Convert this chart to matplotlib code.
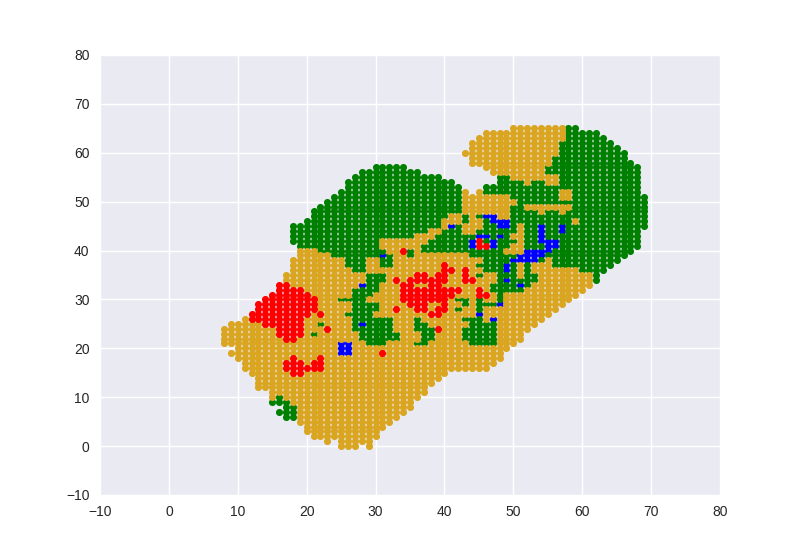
import matplotlib
matplotlib.use("Agg")
import matplotlib.pyplot as plt

# Every colour: column x -> runs of y values (high, low)
outline_runs = {
    8: [(24, 21)], 9: [(25, 21), (19, 19)], 10: [(25, 18)], 11: [(26, 16)], 12: [(27, 15)],
    13: [(29, 12)], 14: [(30, 12)], 15: [(31, 9)], 16: [(33, 9), (7, 7)], 17: [(35, 6)],
    18: [(45, 42), (38, 6)], 19: [(45, 5)], 20: [(46, 3)], 21: [(48, 2)], 22: [(49, 2)],
    23: [(50, 1)], 24: [(51, 2)], 25: [(52, 0)], 26: [(54, 0)], 27: [(55, 0)], 28: [(56, 1)],
    29: [(56, 0)], 30: [(57, 2)], 31: [(57, 4)], 32: [(57, 5)], 33: [(57, 6)], 34: [(57, 7)],
    35: [(56, 8)], 36: [(56, 10)], 37: [(55, 11)], 38: [(55, 13)], 39: [(55, 14)], 40: [(54, 15)],
    41: [(54, 16)], 42: [(53, 16)], 43: [(60, 60), (52, 16)], 44: [(62, 58), (51, 16)],
    45: [(63, 58), (52, 16)], 46: [(64, 57), (53, 16)], 47: [(64, 56), (53, 17)], 48: [(64, 18)],
    49: [(64, 20)], 50: [(65, 21)], 51: [(65, 22)], 52: [(65, 24)], 53: [(65, 25)], 54: [(65, 26)],
    55: [(65, 27)], 56: [(65, 28)], 57: [(65, 29)], 58: [(65, 30)], 59: [(65, 31)], 60: [(64, 32)],
    61: [(64, 33)], 62: [(64, 34)], 63: [(63, 36)], 64: [(62, 37)], 65: [(61, 38)], 66: [(60, 39)],
    67: [(58, 40)], 68: [(57, 41)], 69: [(51, 45)],
}
green_runs = {
    15: [(9, 9)], 16: [(10, 9), (7, 7)], 17: [(9, 6)], 18: [(45, 42), (8, 6)], 19: [(45, 41)],
    20: [(46, 41)], 21: [(48, 41), (23, 23)], 22: [(49, 40), (25, 25)], 23: [(50, 40)],
    24: [(51, 39)], 25: [(52, 39), (30, 30)], 26: [(54, 37), (30, 30), (27, 27)],
    27: [(55, 36), (32, 24)], 28: [(56, 36), (33, 22)], 29: [(56, 39), (35, 31), (29, 21)],
    30: [(57, 39), (35, 32), (29, 28), (26, 21)], 31: [(57, 43), (40, 37), (35, 34), (26, 21)],
    32: [(57, 43), (39, 37), (26, 22)], 33: [(57, 43), (23, 22)], 34: [(57, 43)],
    35: [(56, 43), (40, 39)], 36: [(56, 44), (26, 24), (21, 21)], 37: [(55, 44), (41, 40), (25, 21)],
    38: [(55, 45), (42, 40), (24, 22)], 39: [(55, 45), (43, 40)], 40: [(54, 47), (44, 40)],
    41: [(54, 48), (44, 40)], 42: [(53, 48), (45, 40), (30, 30), (28, 28)],
    43: [(47, 46), (43, 40), (30, 29), (26, 26), (24, 22)], 44: [(43, 39), (26, 21)],
    45: [(47, 47), (44, 39), (37, 37), (35, 35), (30, 21)],
    46: [(53, 52), (47, 44), (43, 36), (29, 29), (25, 21)],
    47: [(53, 52), (47, 43), (42, 36), (33, 32), (29, 29), (26, 21)],
    48: [(55, 52), (46, 29)], 49: [(55, 52), (46, 41), (39, 32)],
    50: [(54, 51), (49, 44), (42, 42), (39, 32)], 51: [(54, 46), (34, 32)],
    52: [(53, 50), (48, 33)], 53: [(54, 50), (48, 38), (35, 34)], 54: [(54, 50), (47, 38)],
    55: [(57, 56), (53, 50), (48, 39)], 56: [(59, 56), (53, 50), (48, 37)],
    57: [(62, 53), (50, 50), (47, 37)], 58: [(65, 53), (50, 50), (48, 37)],
    59: [(65, 47), (45, 37)], 60: [(64, 36)], 61: [(64, 36)], 62: [(64, 34)], 63: [(63, 36)],
    64: [(62, 37)], 65: [(61, 38)], 66: [(60, 39)], 67: [(58, 40)], 68: [(57, 41)], 69: [(51, 45)],
}
blue_runs = {
    25: [(21, 19)], 26: [(21, 19)], 28: [(33, 33), (25, 25)], 31: [(39, 39)], 41: [(45, 45)],
    44: [(42, 41)], 45: [(43, 43), (27, 27)], 46: [(47, 47), (43, 43)],
    47: [(47, 46), (42, 41), (26, 26)], 48: [(46, 45), (43, 43), (29, 29)],
    49: [(46, 45), (37, 36), (34, 34)], 50: [(38, 38)], 51: [(39, 38), (33, 33)], 52: [(40, 38)],
    53: [(40, 38)], 54: [(45, 42), (40, 39)], 55: [(42, 40)], 56: [(42, 41)], 57: [(45, 44)],
}
red_runs = {
    12: [(27, 26)], 13: [(29, 26)], 14: [(30, 25)], 15: [(31, 25)], 16: [(33, 23)],
    17: [(33, 22), (17, 16)], 18: [(32, 22), (18, 15)], 19: [(32, 23), (17, 15)],
    20: [(31, 27), (16, 16)], 21: [(30, 28), (17, 16)], 22: [(27, 27), (18, 16)], 23: [(24, 24)],
    31: [(19, 19)], 33: [(34, 34), (28, 28)], 34: [(40, 40), (33, 30)], 35: [(34, 29)],
    36: [(35, 34), (32, 28)], 37: [(35, 34), (32, 28)], 38: [(34, 30), (27, 27)],
    39: [(35, 30), (28, 27), (24, 24)], 40: [(37, 34), (32, 28)], 41: [(36, 36), (32, 31)],
    42: [(32, 32)], 43: [(36, 34)], 44: [(34, 34)], 45: [(42, 41), (32, 31)], 46: [(41, 41), (31, 31)],
}
x_ticks = [-10, 0, 10, 20, 30, 40, 50, 60, 70, 80]
y_ticks = [-10, 0, 10, 20, 30, 40, 50, 60, 70, 80]


def expand(runs):
    return {(x, y) for x, spans in runs.items() for hi, lo in spans for y in range(lo, hi + 1)}


red = expand(red_runs)
blue = expand(blue_runs) - red
green = expand(green_runs) - red - blue
gold = expand(outline_runs) - red - blue - green

plt.rcParams["font.family"] = ["Liberation Sans", "DejaVu Sans"]
fig, ax = plt.subplots(figsize=(8, 5.5), dpi=100)
fig.subplots_adjust(left=0.125, right=0.9, top=0.9, bottom=0.1)
ax.set_facecolor("#EAEAF2")
for s in ax.spines.values():
    s.set_visible(False)
ax.grid(True, color="white", linewidth=1.0)
ax.set_axisbelow(True)
ax.tick_params(length=0, labelsize=10, colors="#262626", pad=7.5)

# later colours lie over earlier ones: single blue and green rows show as flat slivers
for points, colour in ((blue, "#0000FF"), (green, "#008000"), (gold, "#DAA520"), (red, "#FF0000")):
    pts = sorted(points)
    ax.scatter([p[0] for p in pts], [p[1] for p in pts], s=26, c=colour, linewidths=0)

ax.set_xlim(-10, 80)
ax.set_ylim(-10, 80)
ax.set_xticks(x_ticks)
ax.set_yticks(y_ticks)
fig.savefig("out.png", dpi=100, facecolor="white")
